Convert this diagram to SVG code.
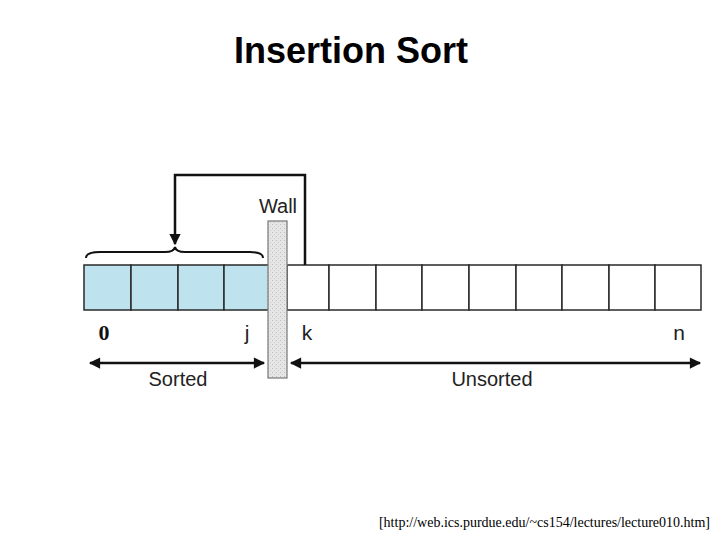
<svg xmlns="http://www.w3.org/2000/svg" width="720" height="540" viewBox="0 0 720 540">
<style>
.cell{stroke:#2a2a2a;stroke-width:1.5}
.sorted{fill:#bfe3ee}
.unsorted{fill:#ffffff}
.lbl{font-family:"Liberation Sans",Arial,sans-serif;font-size:20px;fill:#222}
.idx{font-family:"Liberation Sans",Arial,sans-serif;font-size:21px;fill:#222}
.line{stroke:#111;stroke-width:2.5;fill:none}
</style>
<defs>
<marker id="ah" viewBox="0 0 10 10" refX="9" refY="5" markerWidth="6" markerHeight="4.5" orient="auto-start-reverse" markerUnits="strokeWidth">
<path d="M0,0 L10,5 L0,10 z" fill="#111"/>
</marker>
<pattern id="brick" width="4" height="4" patternUnits="userSpaceOnUse">
<rect width="4" height="4" fill="#e6e6e6"/>
<rect width="1" height="1" fill="#bbb"/>
<rect x="2" y="2" width="1" height="1" fill="#c8c8c8"/>
</pattern>
</defs>
<rect width="720" height="540" fill="#fff"/>
<text x="351" y="63" text-anchor="middle" font-family="Liberation Sans,Arial,sans-serif" font-weight="bold" font-size="36" fill="#000">Insertion Sort</text>

<g id="sorted-cells">
<rect class="cell sorted" x="84" y="265" width="47" height="45"/>
<rect class="cell sorted" x="131" y="265" width="47" height="45"/>
<rect class="cell sorted" x="178" y="265" width="46" height="45"/>
<rect class="cell sorted" x="224" y="265" width="46" height="45"/>
</g>
<g id="unsorted-cells">
<rect class="cell unsorted" x="287" y="265" width="42" height="45"/>
<rect class="cell unsorted" x="329" y="265" width="47" height="45"/>
<rect class="cell unsorted" x="376" y="265" width="46" height="45"/>
<rect class="cell unsorted" x="422" y="265" width="47" height="45"/>
<rect class="cell unsorted" x="469" y="265" width="47" height="45"/>
<rect class="cell unsorted" x="516" y="265" width="46" height="45"/>
<rect class="cell unsorted" x="562" y="265" width="47" height="45"/>
<rect class="cell unsorted" x="609" y="265" width="46" height="45"/>
<rect class="cell unsorted" x="655" y="265" width="46" height="45"/>
</g>

<g id="connectors">
<path class="line" d="M305,265 V175 H175 V244" marker-end="url(#ah)"/>
<path d="M86,258 Q86,252 100,252 L165,252 Q174,252 175,247 Q176,252 185,252 L250,252 Q263,252 263,258" stroke="#111" stroke-width="2" fill="none"/>
<line class="line" x1="90" y1="363" x2="264" y2="363" marker-start="url(#ah)" marker-end="url(#ah)"/>
<line class="line" x1="291" y1="363" x2="700" y2="363" marker-start="url(#ah)" marker-end="url(#ah)"/>
</g>

<g id="wall">
<rect x="268" y="221" width="19" height="157" fill="url(#brick)" stroke="#777" stroke-width="1.2"/>
<text class="lbl" x="278" y="213" text-anchor="middle" font-size="21">Wall</text>
</g>

<g id="labels">
<text x="104" y="340" text-anchor="middle" font-family="Liberation Serif,Times New Roman,serif" font-size="22" font-weight="bold" fill="#111">0</text>
<text class="idx" x="247" y="340" text-anchor="middle">j</text>
<text class="idx" x="307" y="340" text-anchor="middle">k</text>
<text class="idx" x="679" y="340" text-anchor="middle">n</text>
<text class="lbl" x="178" y="386" text-anchor="middle">Sorted</text>
<text class="lbl" x="492" y="386" text-anchor="middle">Unsorted</text>
</g>

<text x="710" y="527" text-anchor="end" font-family="Liberation Serif,Times New Roman,serif" font-size="14" fill="#000">[http://web.ics.purdue.edu/~cs154/lectures/lecture010.htm]</text>
</svg>
